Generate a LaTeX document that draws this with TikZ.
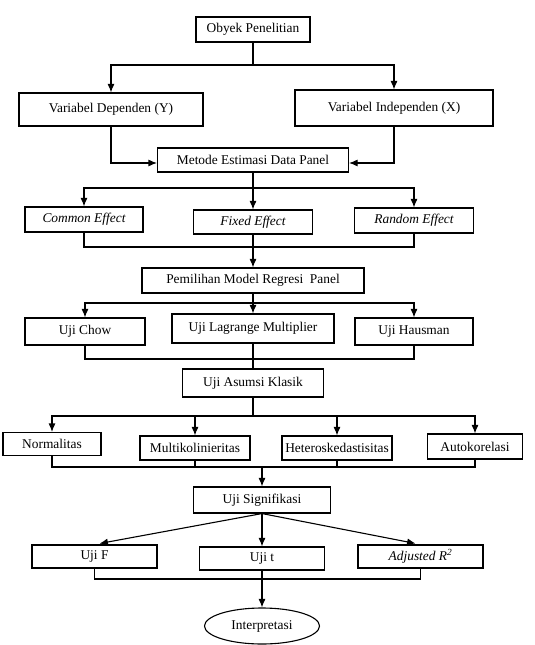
\documentclass[tikz,border=0pt]{standalone}
\usepackage{fontspec}
\setmainfont{Liberation Serif}
\usetikzlibrary{positioning,calc}
\usetikzlibrary{arrows.meta,shapes.geometric}
\tikzset{
  box/.style={draw=black,fill=white,rectangle,line width=1.1pt,inner sep=2pt,
    font=\fontsize{13.4}{15}\selectfont},
  oval/.style={box,ellipse},
  link/.style={draw=black,line width=1.1pt},
  flow/.style={link,-{Latex[length=8.5pt,width=7pt]}},
}

\begin{document}
\begin{tikzpicture}[x=1pt,y=-1pt]
\useasboundingbox (0,0) rectangle (535,645);
% level 1 and 2
\node[box,minimum width=114pt,minimum height=25pt] (obyek) at (253,29.5) {Obyek Penelitian};
\node[box,minimum width=184pt,minimum height=33pt] (dep) at (111,109.5) {Variabel Dependen (Y)};
\node[box,minimum width=198pt,minimum height=36pt] (indep) at (394,108) {Variabel Independen (X)};
\node[box,minimum width=191pt,minimum height=24pt] (metode) at (253,160) {Metode Estimasi Data Panel};
% estimation models
\node[box,minimum width=118pt,minimum height=25pt] (common) at (84,219.5) {\itshape Common Effect};
\node[box,minimum width=119pt,minimum height=24pt] (fixed) at (253,222) {\itshape Fixed Effect};
\node[box,minimum width=119pt,minimum height=25pt] (random) at (414,220.5) {\itshape Random Effect};
\node[box,minimum width=222pt,minimum height=25pt] (pilih) at (253,280.5) {Pemilihan Model Regresi\ \ Panel};
% model tests
\node[box,minimum width=120pt,minimum height=27pt] (chow) at (85,331.5) {Uji Chow};
\node[box,minimum width=162pt,minimum height=29pt] (lagrange) at (253,328.5) {Uji Lagrange Multiplier};
\node[box,minimum width=118pt,minimum height=27pt] (hausman) at (414,331.5) {Uji Hausman};
\node[box,minimum width=141pt,minimum height=28pt] (asumsi) at (253,383) {Uji Asumsi Klasik};
% classical assumptions
\node[box,minimum width=98pt,minimum height=23pt] (normal) at (52,444) {Normalitas};
\node[box,minimum width=110pt,minimum height=24pt] (multi) at (195,448) {Multikolinieritas};
\node[box,minimum width=110pt,minimum height=24pt] (hetero) at (337,448) {Heteroskedastisitas};
\node[box,minimum width=95pt,minimum height=25pt] (auto) at (475,446.5) {Autokorelasi};
\node[box,minimum width=137pt,minimum height=26pt] (signif) at (262,500) {Uji Signifikasi};
% significance tests
\node[box,minimum width=125pt,minimum height=23pt] (ujif) at (94.5,556.5) {Uji F};
\node[box,minimum width=125pt,minimum height=23pt] (ujit) at (262,558.5) {Uji t};
\node[box,minimum width=125pt,minimum height=23pt] (adjr) at (420.5,556.5) {\itshape Adjusted R\textsuperscript{2}};
\node[oval,minimum width=115pt,minimum height=36pt] (interp) at (262,626) {Interpretasi};

% branch and join points
\coordinate (b1) at (253,65);
\coordinate (b2) at (253,188);
\coordinate (j1) at (253,247);
\coordinate (b3) at (253,303);
\coordinate (j2) at (253,359);
\coordinate (b4) at (253,416);
\coordinate (j3) at (262,467);
\coordinate (j4) at (262,579);

\draw[link] (obyek) -- (b1);
\draw[flow] (b1) -| (dep);
\draw[flow] (b1) -| (indep);
\draw[flow] (dep.south) |- ([yshift=-3pt]metode.west);
\draw[flow] (indep.south) |- ([yshift=-3pt]metode.east);

\draw[flow] (metode) -- (fixed);
\draw[flow] (b2) -| (common);
\draw[flow] (b2) -| (random);
\draw[link] (common) |- (j1) -| (random);
\draw[flow] (fixed) -- (pilih);

\draw[link] (pilih) -- (b3);
\draw[flow] (b3) -| (chow);
\draw[flow] (b3) -- (lagrange);
\draw[flow] (b3) -| (hausman);
\draw[link] (chow) |- (j2) -| (hausman);
\draw[link] (lagrange) -- (asumsi);

\draw[link] (asumsi) -- (b4);
\foreach \n in {normal,multi,hetero,auto}
  \draw[flow] (b4) -| (\n);
\draw[link] (normal) |- (j3) -| (auto);
\draw[link] (multi) -- (multi|-j3);
\draw[link] (hetero) -- (hetero|-j3);
\draw[flow] (j3) -- (signif);

\draw[flow,shorten >=5pt] (signif.south) -- (ujif.north);
\draw[flow] (signif) -- (ujit);
\draw[flow,shorten >=5pt] (signif.south) -- (adjr.north);
\draw[link] (ujif) |- (j4) -| (adjr);
\draw[flow] (ujit) -- (interp);
\end{tikzpicture}
\end{document}
